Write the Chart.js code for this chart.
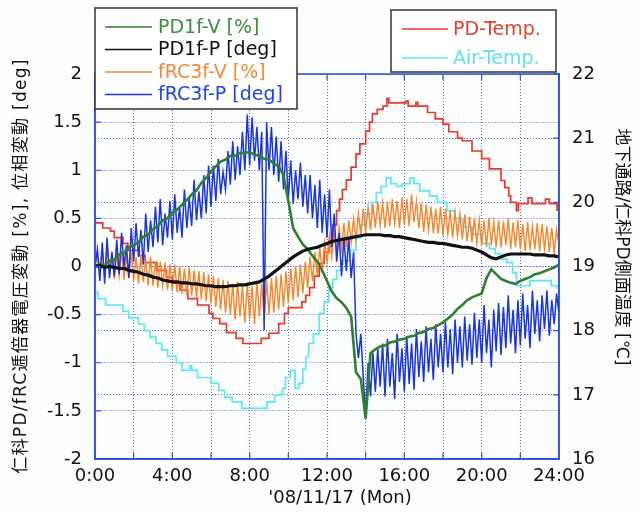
<!DOCTYPE html>
<html><head><meta charset="utf-8">
<script src="https://cdn.jsdelivr.net/npm/chart.js@4.4.1/dist/chart.umd.min.js"></script>
<style>html,body{margin:0;padding:0;background:#fcfefe;}#wrap{width:640px;height:512px;position:relative;}</style>
</head><body><div id="wrap"><canvas id="c" width="640" height="512"></canvas></div>
<script>
// ---------- data ----------
const xTickLabels = ['0:00','4:00','8:00','12:00','16:00','20:00','24:00'];
const xTitle = "'08/11/17 (Mon)";
const yLeftTitle = '仁科PD/fRC逓倍器電圧変動 [%], 位相変動 [deg]';
const yRightTitle = '地下通路/仁科PD側面温度 [℃]';

// fRC3f-P [deg], sampled every 0.125 h
const fastStep = 0.125;
const fRC3fP = [
 0.00,0.18,-0.15,0.25,-0.18,0.30,-0.12,0.15,
 -0.10,0.28,-0.08,0.35,0.00,0.22,-0.12,0.40,
 0.05,0.45,0.10,0.38,0.02,0.55,0.15,0.48,
 0.20,0.62,0.25,0.70,0.22,0.55,0.30,0.68,
 0.28,0.75,0.35,0.62,0.30,0.80,0.40,0.72,
 0.42,0.90,0.48,0.78,0.50,0.95,0.55,1.05,
 0.62,1.05,0.68,1.12,0.75,0.98,0.80,1.20,
 0.85,1.30,0.90,1.25,0.95,1.40,1.00,1.58,
 1.05,1.55,1.10,1.45,1.00,1.40,-0.66,1.50,
 1.00,1.45,0.95,1.35,0.88,1.30,0.80,1.20,
 0.70,1.10,0.65,1.00,0.70,1.08,0.62,0.95,
 0.55,0.95,0.50,0.85,0.40,0.90,0.35,0.75,
 0.30,0.80,0.20,0.55,0.05,0.35,-0.10,0.30,
 -0.05,0.30,-0.12,0.15,-0.70,-0.95,-0.70,-1.15,
 -1.55,-1.00,-1.35,-0.90,-1.30,-0.85,-1.25,-0.80,
 -1.35,-0.75,-1.25,-0.90,-1.38,-0.70,-1.20,-0.85,
 -1.30,-0.72,-1.22,-0.80,-1.28,-0.65,-1.15,-0.78,
 -1.20,-0.62,-1.10,-0.75,-1.18,-0.60,-1.05,-0.70,
 -1.10,-0.58,-1.05,-0.65,-1.12,-0.55,-1.00,-0.62,
 -1.05,-0.52,-0.98,-0.60,-1.02,-0.48,-0.95,-0.55,
 -1.00,-0.40,-0.90,-0.55,-1.05,-0.45,-0.88,-0.38,
 -0.92,-0.42,-0.85,-0.30,-0.80,-0.45,-0.90,-0.35,
 -0.82,-0.28,-0.75,-0.40,-0.85,-0.25,-0.70,-0.35,
 -0.78,-0.30,-0.65,-0.25,-0.72,-0.35,-0.60,-0.28,
 -0.50];

// fRC3f-V [%], sampled every 0.125 h
const fRC3fV = [
 0.00,0.15,-0.12,0.18,-0.10,0.22,-0.08,0.12,
 -0.13,0.14,-0.10,0.16,-0.14,0.12,-0.12,0.15,
 -0.15,0.10,-0.18,0.12,-0.16,0.08,-0.20,0.10,
 -0.20,0.06,-0.22,0.05,-0.20,0.04,-0.24,0.02,
 -0.25,0.02,-0.27,0.00,-0.28,-0.02,-0.30,0.00,
 -0.30,-0.04,-0.32,-0.05,-0.34,-0.06,-0.36,-0.08,
 -0.38,-0.10,-0.42,-0.12,-0.45,-0.14,-0.48,-0.15,
 -0.50,-0.18,-0.55,-0.16,-0.52,-0.20,-0.58,-0.18,
 -0.55,-0.20,-0.60,-0.15,-0.52,-0.18,-0.58,-0.14,
 -0.50,-0.12,-0.48,-0.10,-0.45,-0.08,-0.42,-0.05,
 -0.38,-0.02,-0.35,0.00,-0.32,0.02,-0.28,0.05,
 -0.22,0.10,-0.15,0.15,-0.10,0.20,-0.05,0.25,
 0.05,0.32,0.10,0.38,0.15,0.40,0.18,0.45,
 0.20,0.48,0.25,0.50,0.28,0.55,0.32,0.60,
 0.36,0.62,0.38,0.65,0.40,0.68,0.42,0.66,
 0.40,0.67,0.42,0.70,0.45,0.68,0.40,0.72,
 0.44,0.70,0.42,0.75,0.46,0.68,0.40,0.66,
 0.36,0.64,0.38,0.62,0.35,0.60,0.34,0.62,
 0.32,0.60,0.34,0.58,0.30,0.56,0.32,0.55,
 0.28,0.54,0.26,0.52,0.25,0.50,0.24,0.48,
 0.22,0.48,0.20,0.50,0.22,0.46,0.20,0.48,
 0.20,0.47,0.22,0.50,0.18,0.46,0.20,0.48,
 0.18,0.44,0.16,0.46,0.17,0.42,0.18,0.45,
 0.16,0.44,0.18,0.42,0.15,0.40,0.14,0.38,
 0.22];

// PD1f-V [%], sampled every 0.25 h
const slowStep = 0.25;
const pd1fV = [
 0.00,0.03,0.01,0.06,0.07,0.12,0.14,0.20,
 0.22,0.25,0.31,0.33,0.39,0.42,0.48,0.50,
 0.56,0.59,0.64,0.69,0.75,0.79,0.87,0.92,
 0.99,1.04,1.09,1.11,1.15,1.15,1.18,1.18,
 1.19,1.16,1.15,1.12,1.11,1.07,1.04,0.95,
 0.68,0.40,0.31,0.23,0.18,0.11,0.05,-0.04,
 -0.15,-0.26,-0.33,-0.37,-0.43,-0.52,-1.10,-1.17,
 -1.58,-0.90,-0.86,-0.83,-0.82,-0.79,-0.78,-0.76,
 -0.75,-0.73,-0.72,-0.69,-0.68,-0.65,-0.64,-0.61,
 -0.58,-0.54,-0.50,-0.44,-0.40,-0.35,-0.32,-0.30,
 -0.28,-0.12,-0.03,-0.08,-0.13,-0.15,-0.17,-0.18,
 -0.15,-0.13,-0.11,-0.08,-0.07,-0.05,-0.03,-0.01,
 0.02];

// PD1f-P [deg], sampled every 0.25 h
const pd1fP = [
 0.00,0.01,-0.01,0.00,-0.01,-0.02,-0.02,-0.04,
 -0.05,-0.06,-0.08,-0.09,-0.11,-0.12,-0.14,-0.15,
 -0.16,-0.16,-0.17,-0.17,-0.18,-0.18,-0.19,-0.20,
 -0.20,-0.21,-0.21,-0.21,-0.20,-0.20,-0.19,-0.19,
 -0.18,-0.17,-0.16,-0.13,-0.10,-0.06,-0.02,0.02,
 0.06,0.10,0.13,0.16,0.18,0.19,0.20,0.22,
 0.24,0.26,0.27,0.28,0.29,0.30,0.31,0.32,
 0.33,0.33,0.33,0.33,0.32,0.32,0.31,0.31,
 0.30,0.29,0.28,0.27,0.26,0.25,0.25,0.24,
 0.24,0.23,0.22,0.21,0.20,0.20,0.19,0.17,
 0.15,0.12,0.09,0.08,0.10,0.12,0.13,0.13,
 0.13,0.13,0.13,0.12,0.12,0.12,0.11,0.11,
 0.10];

// PD-Temp [°C], stepped readings (hour, value)
const pdTempHours = [0,0.4,0.8,1.0,1.45,1.7,2.3,2.6,3.2,3.7,4.0,4.4,4.8,5.3,5.9,6.1,6.45,6.8,7.3,7.65,8.6,9.0,9.5,9.8,10.0,10.7,10.9,11.1,11.35,11.6,11.85,12.1,12.3,12.5,12.65,12.8,13.0,13.25,13.5,13.7,14.0,14.2,14.35,14.6,14.9,15.1,15.2,16.1,16.2,16.6,16.7,17.2,17.6,18.0,18.3,18.75,19.0,19.5,20.0,20.4,21.0,21.2,21.4,21.5,21.8,21.9,22.4,22.6,23.3,23.5,23.9,24];
const pdTemp = [19.68,19.60,19.55,19.45,19.36,19.25,19.17,19.06,18.94,18.83,18.74,18.63,18.50,18.40,18.27,18.19,18.11,17.97,17.88,17.80,17.88,17.96,18.11,18.27,18.36,18.45,18.55,18.67,18.85,19.05,19.22,19.40,19.65,19.87,20.05,20.20,20.35,20.55,20.75,20.91,21.11,21.25,21.38,21.45,21.50,21.62,21.55,21.58,21.50,21.56,21.50,21.40,21.30,21.22,21.10,21.00,20.96,20.80,20.68,20.52,20.34,20.23,20.10,20.00,19.87,19.98,20.07,19.98,20.05,19.98,19.88,19.92];

// Air-Temp [°C], stepped readings (hour, value)
const airTempHours = [0,0.15,0.55,1.45,1.75,2.25,2.55,2.85,3.15,3.45,3.75,4.2,4.5,4.9,5.0,5.3,6.0,6.4,6.7,7.1,7.6,8.9,9.3,9.7,9.85,10.1,10.35,10.55,10.75,10.9,11.05,11.3,11.6,11.85,12.1,12.3,12.5,12.8,13.2,13.5,13.75,14.0,14.3,14.55,14.8,15.07,15.3,15.6,15.9,16.3,16.5,16.8,17.3,17.7,18.2,18.6,19.0,19.5,20.0,20.4,20.7,21.0,21.3,21.6,21.8,22.5,23.3,23.6,23.9,24];
const airTemp = [18.60,18.50,18.40,18.30,18.20,18.10,18.00,17.90,17.80,17.70,17.60,17.50,17.38,17.45,17.38,17.27,17.18,17.07,16.96,16.89,16.79,16.89,17.00,17.10,17.27,17.38,17.10,17.18,17.40,17.59,17.80,17.95,18.27,18.45,18.67,18.80,18.94,19.09,19.25,19.45,19.65,19.82,20.00,20.15,20.25,20.38,20.29,20.25,20.29,20.38,20.29,20.18,20.10,20.00,19.87,19.75,19.62,19.50,19.36,19.28,19.20,19.12,19.06,18.90,18.70,18.78,18.78,18.70,18.67,18.67];

const legendLeft = [
 {label:'PD1f-V [%]', color:'#2f7f2f', text:'#3a8f3a'},
 {label:'PD1f-P [deg]', color:'#111111', text:'#111111'},
 {label:'fRC3f-V [%]', color:'#f5862c', text:'#f08a3c'},
 {label:'fRC3f-P [deg]', color:'#1a36dc', text:'#2444e0'}
];
const legendRight = [
 {label:'PD-Temp.', color:'#e8392a', text:'#e5402f'},
 {label:'Air-Temp.', color:'#5ce6f2', text:'#62e0f0'}
];

// ---------- build ----------
const sampled = (arr, step) => arr.map((v,i)=>({x:i*step, y:v}));
const paired = (xs, ys) => xs.map((t,i)=>({x:t, y:ys[i]}));

const FONT = "'DejaVu Sans','Noto Sans CJK JP',sans-serif";
const GRID = '#5e5ede';
const AXIS = '#2a4fe2';

const decor = {
 id:'decor',
 beforeDraw(chart){
  const c=chart.ctx; c.save(); c.fillStyle='#fcfefe'; c.fillRect(0,0,chart.width,chart.height); c.restore();
 },
 afterDraw(chart){
  const c=chart.ctx, a=chart.chartArea, s=chart.scales;
  c.save();
  c.strokeStyle=AXIS; c.lineWidth=1.5;
  c.strokeRect(a.left,a.top,a.right-a.left,a.bottom-a.top);
  c.lineWidth=1.2; c.beginPath();
  for(let v=-2; v<=2.001; v+=0.5){ const y=s.y.getPixelForValue(v); c.moveTo(a.left,y); c.lineTo(a.left+6,y); }
  for(let v=16; v<=22; v+=1){ const y=s.y2.getPixelForValue(v); c.moveTo(a.right,y); c.lineTo(a.right-6,y); }
  for(let h=0; h<=24; h+=2){ const x=s.x.getPixelForValue(h); c.moveTo(x,a.bottom); c.lineTo(x,a.bottom-6); c.moveTo(x,a.top); c.lineTo(x,a.top+6); }
  c.stroke();
  const box=(x,y,w,h)=>{ c.fillStyle='#ffffff'; c.fillRect(x,y,w,h); c.strokeStyle='#333'; c.lineWidth=1.5; c.strokeRect(x,y,w,h); };
  c.font='19px '+FONT; c.textBaseline='middle'; c.textAlign='left';
  box(95,8,202,101);
  legendLeft.forEach((e,i)=>{ const y=27+i*22.5; c.strokeStyle=e.color; c.lineWidth=1.5; c.beginPath(); c.moveTo(105,y); c.lineTo(152,y); c.stroke(); c.fillStyle=e.text; c.fillText(e.label,158,y+1); });
  box(391,10,165,62);
  legendRight.forEach((e,i)=>{ const y=29+i*29; c.strokeStyle=e.color; c.lineWidth=1.5; c.beginPath(); c.moveTo(402,y); c.lineTo(448,y); c.stroke(); c.fillStyle=e.text; c.fillText(e.label,453,y+1); });
  c.fillStyle='#111'; c.font='17px '+FONT; c.textAlign='center';
  c.save(); c.translate(22,266); c.rotate(-Math.PI/2);
  try{ c.letterSpacing='1.3px'; }catch(err){}
  c.fillText(yLeftTitle,0,0);
  try{ c.letterSpacing='0px'; }catch(err){}
  c.restore();
  c.save(); c.translate(621,247); c.rotate(Math.PI/2); c.fillText(yRightTitle,0,0); c.restore();
  c.font='18px '+FONT; c.fillText(xTitle,340,498);
  c.restore();
 }
};

const tickFont = {family:FONT, size:18};
new Chart(document.getElementById('c'), {
 type:'line',
 data:{ datasets:[
  {label:'PD1f-P [deg]', data:sampled(pd1fP,slowStep), borderColor:'#111111', borderWidth:3.2, yAxisID:'y'},
  {label:'PD1f-V [%]', data:sampled(pd1fV,slowStep), borderColor:'#2f7f2f', borderWidth:2.6, yAxisID:'y'},
  {label:'fRC3f-P [deg]', data:sampled(fRC3fP,fastStep), borderColor:'#1a36dc', borderWidth:1.5, yAxisID:'y'},
  {label:'fRC3f-V [%]', data:sampled(fRC3fV,fastStep), borderColor:'#f5862c', borderWidth:1.4, yAxisID:'y'},
  {label:'PD-Temp.', data:paired(pdTempHours,pdTemp), borderColor:'#e8392a', borderWidth:1.7, stepped:true, yAxisID:'y2'},
  {label:'Air-Temp.', data:paired(airTempHours,airTemp), borderColor:'#5ce6f2', borderWidth:1.7, stepped:true, yAxisID:'y2'}
 ]},
 options:{
  responsive:false, animation:false, devicePixelRatio:1,
  elements:{ point:{radius:0}, line:{tension:0, fill:false} },
  layout:{ padding:{top:74,left:0,right:0,bottom:0} },
  plugins:{ legend:{display:false}, tooltip:{enabled:false} },
  scales:{
   x:{ type:'linear', min:0, max:24, position:'bottom',
       afterFit:s=>{s.height=53;},
       ticks:{ stepSize:2, autoSkip:false, maxRotation:0, font:tickFont, color:'#111', padding:7,
               callback:v=> (v%4===0 ? xTickLabels[v/4] : '') },
       grid:{ color:GRID, lineWidth:1, drawTicks:false },
       border:{ display:true, color:AXIS, width:1.5, dash:[1,2] } },
   y:{ type:'linear', min:-2, max:2, position:'left',
       afterFit:s=>{s.width=95;},
       ticks:{ stepSize:0.5, font:tickFont, color:'#111', padding:13, callback:v=>String(Math.round(v*10)/10) },
       grid:{ color:GRID, lineWidth:1, drawTicks:false },
       border:{ display:true, color:AXIS, width:1.5, dash:[1,2] } },
   y2:{ type:'linear', min:16, max:22, position:'right',
       afterFit:s=>{s.width=81;},
       ticks:{ stepSize:1, font:tickFont, color:'#111', padding:13 },
       grid:{ color:GRID, lineWidth:1, drawTicks:false },
       border:{ display:true, color:AXIS, width:1.5, dash:[1,2] } }
  }
 },
 plugins:[decor]
});
</script></body></html>
